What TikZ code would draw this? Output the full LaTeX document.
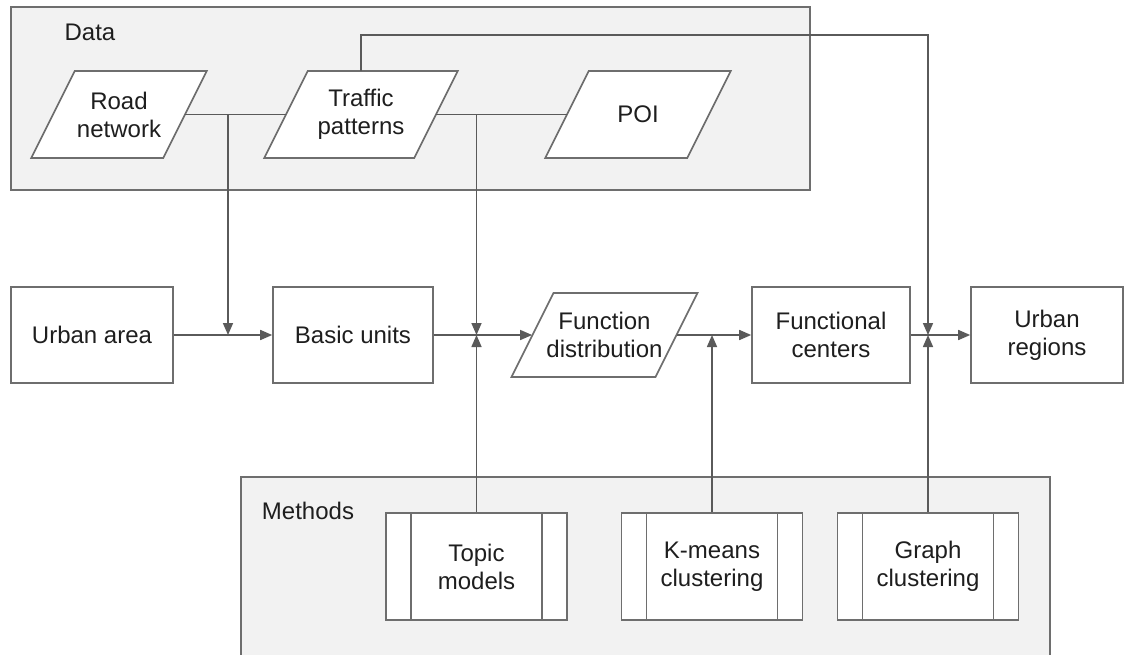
\documentclass[tikz,border=0pt]{standalone}
\usepackage{fontspec}
\setmainfont{Liberation Sans}
\usetikzlibrary{arrows.meta}
\definecolor{linegray}{HTML}{5A5A5A}
\definecolor{boxgray}{HTML}{6E6E6E}
\definecolor{groupfill}{HTML}{F2F2F2}
\definecolor{textblack}{HTML}{1E1E1E}

% data symbol: name, x, y, edge length, height, text
\newcommand{\dataio}[6]{%
  \filldraw[dataframe, shift={(#2,#3)}]
    (-#4/2-#5/4, #5/2) -- (#4/2-#5/4, #5/2) -- (#4/2+#5/4, -#5/2) -- (-#4/2+#5/4, -#5/2) -- cycle;
  \node[datatext, minimum width=0.5pt*#4, minimum height=0.5pt*#5] (#1) at (#2,#3) {#6};
}

\begin{document}
\begin{tikzpicture}[
    x=0.5pt, y=-0.5pt,
    every node/.style={font=\fontsize{12}{14}\selectfont, text=textblack},
    box/.style={rectangle, draw=boxgray, line width=0.8pt, fill=white, minimum height=48pt, align=center},
    dataframe/.style={draw=boxgray, line width=0.8pt, fill=white},
    datatext/.style={rectangle, inner sep=0pt, align=center},
    process/.style={box, minimum width=90.5pt, minimum height=53.5pt,
        path picture={\draw[boxgray, line width=0.8pt]
            ([xshift=12.5pt]path picture bounding box.north west) -- ([xshift=12.5pt]path picture bounding box.south west)
            ([xshift=-12.5pt]path picture bounding box.north east) -- ([xshift=-12.5pt]path picture bounding box.south east);}},
    group/.style={draw=boxgray, line width=0.8pt, fill=groupfill},
    line/.style={draw=linegray, line width=0.8pt},
    arrow/.style={line, -{Triangle[length=6pt,width=5pt]}}
]
\useasboundingbox[fill=white] (0,0) rectangle (1125,654);

% Groups
\draw[group] (11,7) rectangle (810,190);
\draw[group] (241,656) |- (1050,477) -- (1050,656);
\node (datalabel) at (90,32) {Data};
\node (methodslabel) at (308,511) {Methods};

% Data
\dataio{road}{119}{114.5}{132}{87}{Road\\network}
\dataio{traffic}{361}{114.5}{150}{87}{Traffic\\patterns}
\dataio{poi}{638}{114.5}{142}{87}{POI}

% Main flow
\node[box, minimum width=81pt] (urban) at (92,335) {Urban area};
\node[box, minimum width=80pt] (basic) at (353,335) {Basic units};
\dataio{fd}{604.5}{335}{144}{84}{Function\\distribution}
\node[box, minimum width=79pt] (centers) at (831,335) {Functional\\centers};
\node[box, minimum width=76pt] (regions) at (1047,335) {Urban\\regions};

% Methods
\node[process] (topic) at (476.5,566.5) {Topic\\models};
\node[process] (kmeans) at (712,566.5) {K-means\\clustering};
\node[process] (graph) at (928,566.5) {Graph\\clustering};

\coordinate (j1) at (228,335);
\coordinate (corner) at (928,35);

% Arrows - main flow
\draw[arrow] (urban) -- (basic);
\draw[arrow] (basic) -- (fd);
\draw[arrow] (fd) -- (centers);
\draw[arrow] (centers) -- (regions);

% Arrows - data
\draw[line] (road) -- (traffic);
\draw[line] (traffic) -- (poi);
\draw[arrow] (road -| j1) -- (j1);
\draw[arrow] (traffic -| topic) -- (topic |- basic);
\draw[arrow] (traffic) |- (corner) -- (corner |- centers);

% Arrows - methods
\draw[arrow] (topic) -- (topic |- basic);
\draw[arrow] (kmeans) -- (kmeans |- fd);
\draw[arrow] (graph) -- (graph |- centers);

\end{tikzpicture}
\end{document}
